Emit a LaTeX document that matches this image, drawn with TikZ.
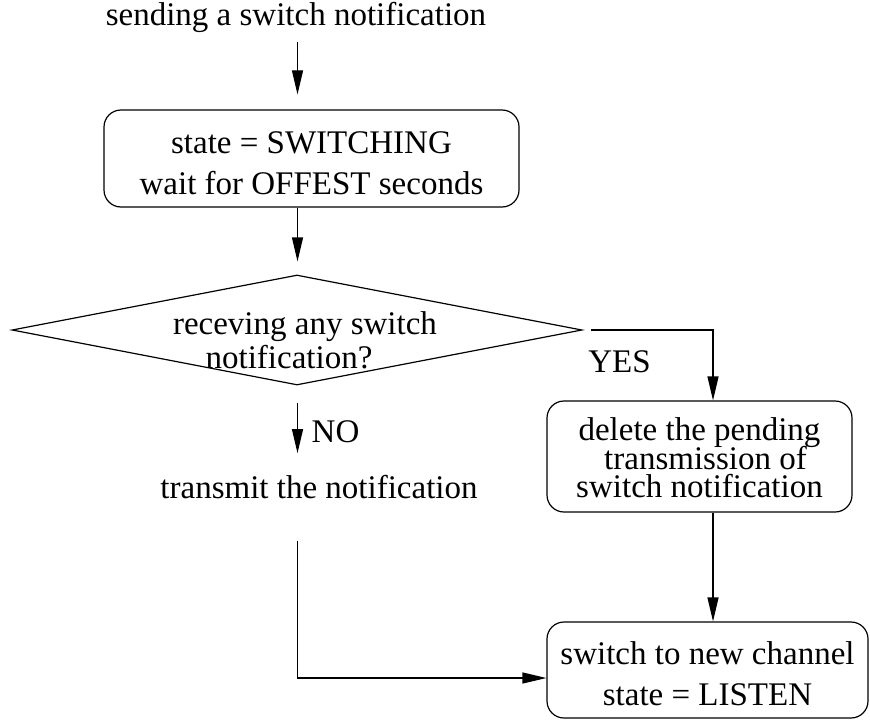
\documentclass[tikz,border=0pt]{standalone}
\usepackage{fontspec}
\setmainfont{Liberation Serif}
\usetikzlibrary{arrows.meta,shapes.geometric}

\newcommand\tightfont{\fontsize{16.5}{14.25}\selectfont\lineskiplimit=-20pt\relax}

\begin{document}
\begin{tikzpicture}[x=0.5pt, y=-0.5pt, line width=0.6pt,
	font=\fontsize{16.5}{20.5}\selectfont,
	box/.style={draw, rounded corners=8.5pt, align=center, inner sep=0pt},
	decision/.style={draw, diamond, aspect=5.2, inner sep=0pt,
		minimum width=285pt, minimum height=55pt},
	txt/.style={anchor=base, inner sep=0pt},
	arr/.style={-{Triangle[length=12pt, width=5.5pt]}}]

	% ---- parameters

	\def\colx{297.5}
	\def\dropx{713}
	\def\mergey{678}

	% ---- coordinates

	\useasboundingbox (0,0) rectangle (870,722);

	\coordinate (col) at (\colx,0);
	\coordinate (drop) at (\dropx,330);
	\coordinate (merge) at (\colx,\mergey);

	% ---- boxes

	\node[txt] (send) at (296,26) {sending a switch notification};

	\node[box, minimum width=207.5pt, minimum height=48.5pt] (switching)
		at (311.5,158.5) {\rule{0pt}{16pt}state = SWITCHING\\wait for OFFEST seconds};

	\node[decision] (ask) at (297,330) {};
	\node[align=center, inner sep=0pt, font=\fontsize{16.5}{17}\selectfont] (asktext)
		at (305,340) {receving any switch\\notification?\hspace*{16pt}};

	\node[box, minimum width=152.5pt, minimum height=55.5pt, font=\tightfont] (delete)
		at (699.5,456.5) {\rule{0pt}{13pt}delete the pending\\\hspace*{6pt}transmission of\\switch notification};

	\node[box, minimum width=160.5pt, minimum height=48pt] (listen)
		at (707.5,670) {\rule{0pt}{15pt}switch to new channel\\state = LISTEN};

	% ---- labels

	\node[txt] (yes) at (619.5,372) {YES};
	\node[txt] (no) at (335.5,442) {NO};
	\node[txt] (transmit) at (319,498) {transmit the notification};

	% ---- arrows

	\draw[arr, shorten <=4pt, shorten >=7.5pt] (col |- send.south) -- (col |- switching.north);
	\draw[arr, shorten >=6.5pt] (col |- switching.south) -- (col |- ask.north);

	\draw[arr, shorten <=4pt] (ask.east) -- (drop) -- (drop |- delete.north);
	\draw[arr] (drop |- delete.south) -- (drop |- listen.north);

	\draw[arr, shorten <=8.5pt, shorten >=10.5pt] (col |- ask.south) -- (col |- transmit.north);
	\draw[arr, shorten <=21pt] (col |- transmit.south) -- (merge) -- (merge -| listen.west);

\end{tikzpicture}
\end{document}
